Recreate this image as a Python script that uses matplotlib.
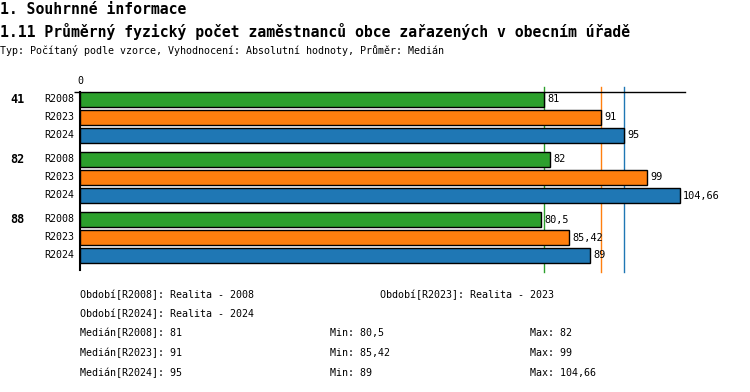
#!/usr/bin/env python3

import matplotlib
matplotlib.use("Agg")
import matplotlib.pyplot as plt
import matplotlib.transforms as mtransforms

plt.rcParams['font.family'] = ['DejaVu Sans Mono']

groups = ["41", "82", "88"]
series = ["R2008", "R2023", "R2024"]
values = {
    "R2008": [81, 82, 80.5],
    "R2023": [91, 99, 85.42],
    "R2024": [95, 104.66, 89],
}
medians = {"R2008": 81, "R2023": 91, "R2024": 95}
mins = {"R2008": "80,5", "R2023": "85,42", "R2024": "89"}
maxs = {"R2008": "82", "R2023": "99", "R2024": "104,66"}
periods = {"R2008": "Realita - 2008", "R2023": "Realita - 2023", "R2024": "Realita - 2024"}
colors = {"R2008": "#2ca02c", "R2023": "#ff7f0e", "R2024": "#1f77b4"}

W, H = 750, 392
fig = plt.figure(figsize=(W / 100, H / 100), dpi=100)


def fx(x):
    return x / W


def fy(y):
    return 1 - y / H


# axes in pixel box: x 80..685, y 92..270
ax = fig.add_axes([fx(80), fy(270), fx(685) - fx(80), fy(92) - fy(270)])

row = 18.0          # px per bar row
gpitch = 60.0 / row  # group pitch in row units
bh = 15.0 / row

ax.set_xlim(0, 105.6)
ax.set_ylim((270 - 92) / row, 0)


def fmt(v):
    s = ("%g" % v).replace(".", ",")
    return s


ylab = mtransforms.blended_transform_factory(fig.transFigure, ax.transData)
for g, grp in enumerate(groups):
    for i, s in enumerate(series):
        yc = g * gpitch + i + bh / 2
        v = values[s][g]
        ax.barh(yc, v, height=bh, color=colors[s], edgecolor="black",
                linewidth=1, zorder=3)
        ax.text(v + 0.6, yc, fmt(v), va="center", ha="left", fontsize=7.4)
        ax.text(fx(74), yc, s, transform=ylab, va="center", ha="right", fontsize=7.2)
    ax.text(fx(10), g * gpitch + bh / 2, grp, transform=ylab, va="center",
            ha="left", fontsize=8.5, fontweight="bold")

for s in series:
    ax.axvline(medians[s], ymin=-2 / 178, ymax=1 + 5 / 178, color=colors[s],
               linewidth=1, zorder=1, clip_on=False)

for sp in ["right", "bottom"]:
    ax.spines[sp].set_visible(False)
ax.spines["left"].set_bounds(ax.get_ylim()[0], 0)
ax.spines["left"].set_linewidth(1.5)
ax.spines["top"].set_linewidth(1)
ax.xaxis.tick_top()
ax.set_xticks([0])
ax.set_xticklabels(["0"], fontsize=7.2)
ax.tick_params(axis="x", length=0, pad=4)
ax.set_yticks([0])
ax.set_yticklabels([])
ax.tick_params(axis="y", length=4, width=1)

fig.text(fx(0), fy(10), "1. Souhrnné informace", fontsize=10.6,
         fontweight="bold", va="center", ha="left")
fig.text(fx(0), fy(31), "1.11 Průměrný fyzický počet zaměstnanců obce zařazených v obecním úřadě",
         fontsize=10.6, fontweight="bold", va="center", ha="left")
fig.text(fx(0), fy(50), "Typ: Počítaný podle vzorce, Vyhodnocení: Absolutní hodnoty, Průměr: Medián",
         fontsize=7.2, va="center", ha="left")

fig.text(fx(80), fy(295), "Období[R2008]: " + periods["R2008"], fontsize=7.2, va="center")
fig.text(fx(380), fy(295), "Období[R2023]: " + periods["R2023"], fontsize=7.2, va="center")
fig.text(fx(80), fy(314), "Období[R2024]: " + periods["R2024"], fontsize=7.2, va="center")
for k, s in enumerate(series):
    y = 333 + k * 20
    fig.text(fx(80), fy(y), "Medián[%s]: %s" % (s, fmt(medians[s])), fontsize=7.2, va="center")
    fig.text(fx(330), fy(y), "Min: " + mins[s], fontsize=7.2, va="center")
    fig.text(fx(530), fy(y), "Max: " + maxs[s], fontsize=7.2, va="center")

fig.savefig("out.png", dpi=100)
